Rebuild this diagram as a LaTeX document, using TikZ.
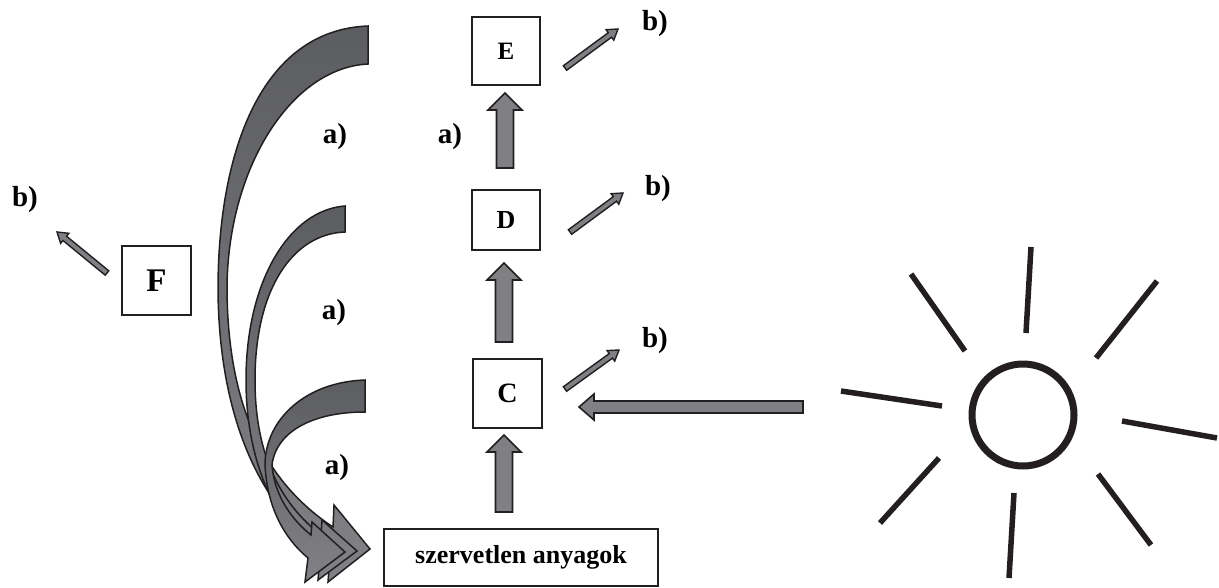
\documentclass[tikz,border=0pt]{standalone}
\usepackage{fontspec}
\setmainfont{Liberation Serif}
\usetikzlibrary{calc}
\definecolor{band}{RGB}{92,93,97}
\definecolor{bandlight}{RGB}{130,130,134}
\definecolor{blk}{RGB}{128,128,132}
\definecolor{ink}{RGB}{35,31,32}
% #1 style, #2 from, #3 to, #4 shaft half width, #5 head half width, #6 head length
\newcommand\fatarrow[6]{%
  \coordinate (fa@c) at ($(#3)!#6!(#2)$);
  \draw[#1] ($(#2)!#4!90:(#3)$) -- ($(fa@c)!#4!90:(#3)$) -- ($(fa@c)!#5!90:(#3)$)
    -- (#3) -- ($(fa@c)!#5!-90:(#3)$) -- ($(fa@c)!#4!-90:(#3)$) -- ($(#2)!#4!-90:(#3)$) -- cycle;}
\begin{document}
\begin{tikzpicture}[x=1pt,y=-1pt,
  box/.style={draw=ink,line width=1.2pt,fill=white,inner sep=0pt,font=\bfseries},
  lbl/.style={font=\bfseries\fontsize{29}{31}\selectfont,inner sep=0pt},
  fat/.style={draw=ink,line width=1.6pt,fill=blk,line join=miter},
  thinarr/.style={draw=ink,line width=1.4pt,fill=blk,line join=miter},
  bandstyle/.style={draw=ink,line width=1.5pt,top color=band,bottom color=bandlight,line join=miter},
  ray/.style={line width=5.5pt,draw=ink}]
\useasboundingbox (0,0) rectangle (1219,587);

% curved arrows
\draw[bandstyle] (368,26) .. controls (262,30) and (218,150) .. (218,290)
  .. controls (219,420) and (262,512) .. (330,555) -- (328,582) -- (370,549) -- (334,505) -- (333,527)
  .. controls (274,488) and (228,420) .. (227,290)
  .. controls (227,170) and (290,68) .. (368,64) -- cycle;
\draw[bandstyle] (345,206) .. controls (290,210) and (246,280) .. (246,380)
  .. controls (246,465) and (278,528) .. (320,557) -- (318,580) -- (357,551) -- (322,520) -- (321,535)
  .. controls (284,506) and (255,460) .. (255,380)
  .. controls (255,290) and (292,234) .. (345,232) -- cycle;
\draw[bandstyle] (365,380) .. controls (305,382) and (265,420) .. (265,465)
  .. controls (267,507) and (284,538) .. (308,558) -- (305,582) -- (345,552) -- (312,522) -- (311,535)
  .. controls (292,520) and (274,495) .. (272,465)
  .. controls (276,432) and (312,412) .. (365,412) -- cycle;

% boxes
\node[box,minimum width=68pt,minimum height=68pt,font=\bfseries\fontsize{25}{27}\selectfont] (E) at (506,51) {E};
\node[box,minimum width=68pt,minimum height=60pt,font=\bfseries\fontsize{26}{28}\selectfont] (D) at (506,220) {D};
\node[box,minimum width=69pt,minimum height=69pt,font=\bfseries\fontsize{28}{30}\selectfont] (C) at (507.5,393.5) {C};
\node[box,minimum width=69pt,minimum height=69pt,font=\bfseries\fontsize{33}{35}\selectfont] (F) at (156.5,280.5) {F};
\node[box,minimum width=274pt,minimum height=57pt,font=\bfseries\fontsize{26}{28}\selectfont] (S) at (521,557.5) {szervetlen anyagok};

% block arrows
\coordinate (sc1) at (504,512); \coordinate (sc2) at (504,435);
\coordinate (cd1) at (504,342); \coordinate (cd2) at (504,263);
\coordinate (de1) at (505,168); \coordinate (de2) at (505,93);
\coordinate (sun1) at (803,407); \coordinate (sun2) at (579,407);
\fatarrow{fat}{sc1}{sc2}{8.5pt}{17pt}{17pt}
\fatarrow{fat}{cd1}{cd2}{8.5pt}{17pt}{17pt}
\fatarrow{fat}{de1}{de2}{8.5pt}{17pt}{17pt}
\fatarrow{fat}{sun1}{sun2}{6pt}{13pt}{15pt}

% b) arrows
\coordinate (eb1) at (565,68); \coordinate (eb2) at (618,29);
\coordinate (db1) at (570,232); \coordinate (db2) at (623,193);
\coordinate (cb1) at (565,389); \coordinate (cb2) at (619,350);
\coordinate (fb1) at (107,273); \coordinate (fb2) at (57,232);
\fatarrow{thinarr}{eb1}{eb2}{2.8pt}{6.5pt}{10pt}
\fatarrow{thinarr}{db1}{db2}{2.8pt}{6.5pt}{10pt}
\fatarrow{thinarr}{cb1}{cb2}{2.8pt}{6.5pt}{10pt}
\fatarrow{thinarr}{fb1}{fb2}{2.8pt}{6.5pt}{10pt}

% labels
\node[lbl] (bE) at (655,24) {b)};
\node[lbl] (bD) at (658,189) {b)};
\node[lbl] (bC) at (655,341) {b)};
\node[lbl] (bF) at (25,200) {b)};
\node[lbl] (a1) at (335,137) {a)};
\node[lbl] (a2) at (450,137) {a)};
\node[lbl] (a3) at (334,313) {a)};
\node[lbl] (a4) at (337,468) {a)};

% sun
\draw[ink,line width=7pt] (1023,415) circle[radius=51pt];
\draw[ray] (1031,247) -- (1026,333);
\draw[ray] (911,274) -- (965,351);
\draw[ray] (1157,281) -- (1096,358);
\draw[ray] (841,391) -- (942,406);
\draw[ray] (1122,421) -- (1217,438);
\draw[ray] (939,458) -- (880,523);
\draw[ray] (1014,493) -- (1009,578);
\draw[ray] (1098,474) -- (1151,545);
\end{tikzpicture}
\end{document}
